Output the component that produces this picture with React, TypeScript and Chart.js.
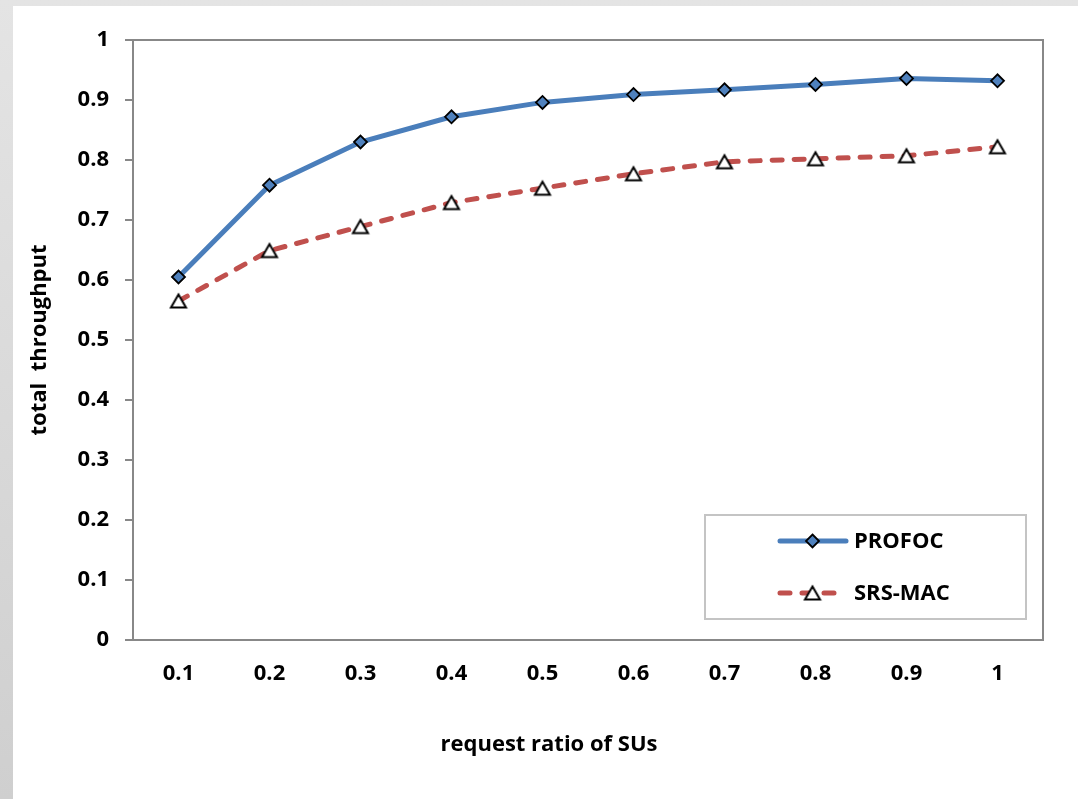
import React, { useEffect, useRef } from "react";
import { Chart, registerables } from "chart.js";

Chart.register(...registerables);

const categories = ["0.1", "0.2", "0.3", "0.4", "0.5", "0.6", "0.7", "0.8", "0.9", "1"];
const profocValues = [0.605, 0.758, 0.83, 0.872, 0.896, 0.909, 0.917, 0.926, 0.936, 0.932];
const srsMacValues = [0.565, 0.649, 0.689, 0.729, 0.753, 0.777, 0.797, 0.802, 0.807, 0.822];
const yTickLabels = ["0", "0.1", "0.2", "0.3", "0.4", "0.5", "0.6", "0.7", "0.8", "0.9", "1"];
const seriesNames = ["PROFOC", "SRS-MAC"];
const xTitle = "request ratio of SUs";
const yTitle = "total  throughput";

const FONT = "'Open Sans', Lato, sans-serif";
const FS = 22;
const BLUE = "#4a7ebb";
const BLUE_FILL = "#4f81bd";
const RED = "#c0504d";
const AXIS = "#888888";

function makeTriangle(): HTMLCanvasElement {
  const c = document.createElement("canvas");
  c.width = 20;
  c.height = 18;
  const ctx = c.getContext("2d")!;
  ctx.beginPath();
  ctx.moveTo(10, 2.5);
  ctx.lineTo(2.5, 15.5);
  ctx.lineTo(17.5, 15.5);
  ctx.closePath();
  ctx.fillStyle = "#ffffff";
  ctx.fill();
  ctx.lineWidth = 2;
  ctx.strokeStyle = "#000000";
  ctx.lineJoin = "miter";
  ctx.stroke();
  return c;
}

export default function App() {
  const ref = useRef<HTMLCanvasElement | null>(null);

  useEffect(() => {
    if (!ref.current) return;
    const tri = makeTriangle();

    const framePlugin = {
      id: "frame",
      afterDatasetsDraw(chart: any) {
        const { ctx, chartArea: a } = chart;
        ctx.save();
        ctx.strokeStyle = AXIS;
        ctx.lineWidth = 2;
        ctx.strokeRect(a.left, a.top, a.right - a.left, a.bottom - a.top);
        ctx.restore();
      },
      afterDraw(chart: any) {
        const { ctx, chartArea: a } = chart;
        ctx.save();
        // x-axis title (offset to the left as in the reference)
        ctx.fillStyle = "#000";
        ctx.font = `bold ${FS}px ${FONT}`;
        ctx.textAlign = "center";
        ctx.textBaseline = "middle";
        ctx.fillText(xTitle, a.left + 416, a.bottom + 105);

        const bx = a.right - 338;
        const by = a.top + 475;
        const bw = 321;
        const bh = 104;
        ctx.fillStyle = "#ffffff";
        ctx.fillRect(bx, by, bw, bh);
        ctx.strokeStyle = "#c4c4c4";
        ctx.lineWidth = 2;
        ctx.strokeRect(bx, by, bw, bh);
        const items = [
          { y: by + 26, color: BLUE, dash: [] as number[], marker: "diamond" },
          { y: by + 78, color: RED, dash: [10, 12], marker: "tri" },
        ];
        items.forEach((it, i) => {
          ctx.save();
          ctx.strokeStyle = it.color;
          ctx.lineWidth = 5;
          ctx.lineCap = "round";
          ctx.setLineDash(it.dash);
          ctx.beginPath();
          ctx.moveTo(bx + 75, it.y);
          ctx.lineTo(bx + 141, it.y);
          ctx.stroke();
          ctx.restore();
          const mx = bx + 107.5;
          if (it.marker === "diamond") {
            const r = 6.5;
            ctx.beginPath();
            ctx.moveTo(mx, it.y - r);
            ctx.lineTo(mx + r, it.y);
            ctx.lineTo(mx, it.y + r);
            ctx.lineTo(mx - r, it.y);
            ctx.closePath();
            ctx.fillStyle = BLUE_FILL;
            ctx.fill();
            ctx.lineWidth = 1.8;
            ctx.strokeStyle = "#000";
            ctx.stroke();
          } else {
            ctx.drawImage(tri, mx - 10, it.y - 9);
          }
          ctx.fillStyle = "#000";
          ctx.font = `bold ${FS}px ${FONT}`;
          ctx.textAlign = "left";
          ctx.textBaseline = "middle";
          ctx.fillText(seriesNames[i], bx + 149, it.y + 1);
        });
        ctx.restore();
      },
    };

    const chart = new Chart(ref.current, {
      type: "line",
      data: {
        labels: categories,
        datasets: [
          {
            label: seriesNames[0],
            data: profocValues,
            borderColor: BLUE,
            borderWidth: 5,
            tension: 0,
            pointStyle: "rectRot",
            pointRadius: 6.5,
            pointBackgroundColor: BLUE_FILL,
            pointBorderColor: "#000",
            pointBorderWidth: 1.8,
          },
          {
            label: seriesNames[1],
            data: srsMacValues,
            borderColor: RED,
            borderWidth: 5,
            borderDash: [10, 12],
            borderCapStyle: "round",
            tension: 0,
            pointStyle: tri as any,
            pointRadius: 8,
          },
        ],
      },
      options: {
        animation: false,
        responsive: false,
        events: [],
        layout: { padding: { top: 34, right: 35, left: 0, bottom: 0 } },
        plugins: { legend: { display: false }, tooltip: { enabled: false } },
        scales: {
          x: {
            type: "category",
            offset: true,
            grid: { display: false, drawTicks: false },
            border: { display: false },
            ticks: {
              color: "#000",
              padding: 21,
              font: { family: FONT, size: FS, weight: "bold" },
              maxRotation: 0,
            },
            afterFit(scale: any) {
              scale.height = 159;
            },
          },
          y: {
            min: 0,
            max: 1,
            ticks: {
              stepSize: 0.1,
              color: "#000",
              padding: 16,
              font: { family: FONT, size: FS, weight: "bold" },
              callback: (_v: any, i: number) => yTickLabels[i],
            },
            grid: {
              drawOnChartArea: false,
              drawTicks: true,
              tickLength: 8,
              color: AXIS,
              lineWidth: 2,
            },
            border: { display: false },
            title: {
              display: true,
              text: yTitle,
              color: "#000",
              font: { family: FONT, size: FS, weight: "bold" },
              padding: { top: 14, bottom: 0 },
            },
            afterFit(scale: any) {
              scale.width = 120;
            },
          },
        },
      },
      plugins: [framePlugin],
    });
    return () => chart.destroy();
  }, []);

  return (
    <div
      style={{
        position: "fixed",
        left: 0,
        top: 0,
        width: 1078,
        height: 799,
        background: "linear-gradient(180deg, #e4e4e4 0%, #cfcfcf 100%)",
      }}
    >
      <div style={{ position: "absolute", left: 13, top: 6, width: 1065, height: 793, background: "#ffffff" }}>
        <canvas ref={ref} width={1065} height={793} style={{ width: 1065, height: 793, display: "block" }} />
      </div>
    </div>
  );
}
